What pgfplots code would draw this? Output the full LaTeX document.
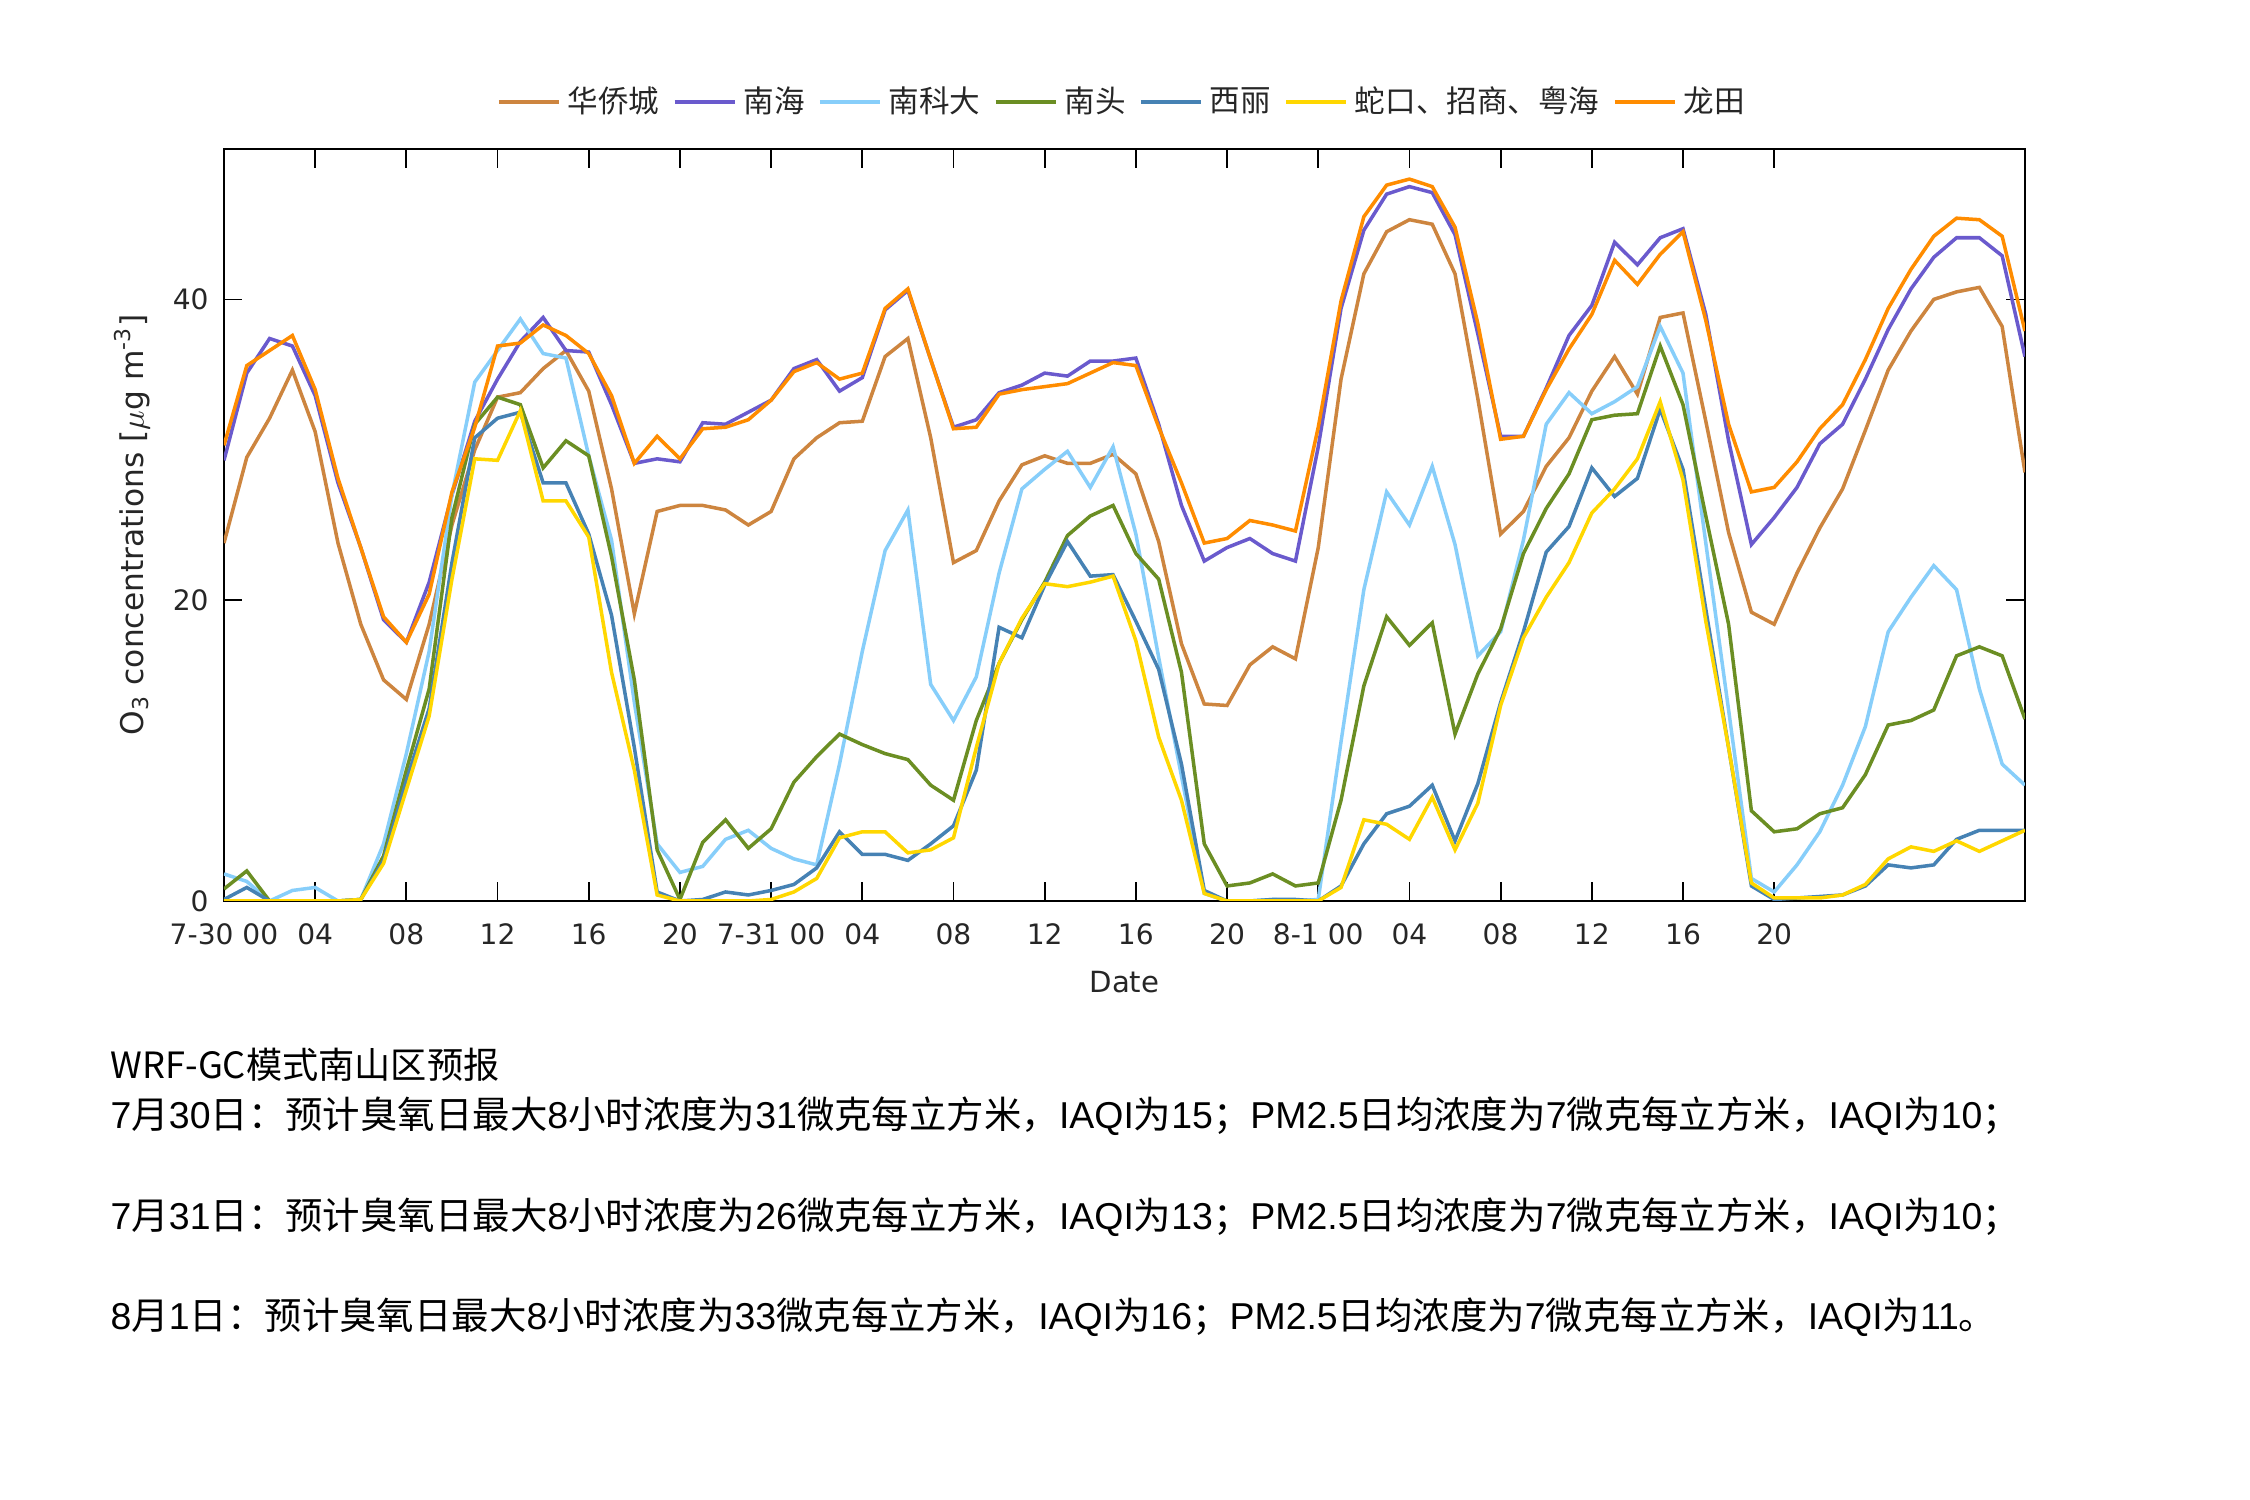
\documentclass[border=0pt]{standalone}
\usepackage{pgfplots}
\pgfplotsset{compat=1.18}
\usepackage{pgfplotstable}
\usepackage{fontspec}
\setmainfont{DejaVu Sans}
\newfontfamily\cjk{Noto Sans CJK SC}
\newfontfamily\lat{Liberation Sans}
\definecolor{cHQ}{HTML}{CD853F}
\definecolor{cNH}{HTML}{6A5ACD}
\definecolor{cNK}{HTML}{87CEFA}
\definecolor{cNT}{HTML}{6B8E23}
\definecolor{cXL}{HTML}{4682B4}
\definecolor{cSK}{HTML}{FFD700}
\definecolor{cLT}{HTML}{FF8C00}
\definecolor{txt}{HTML}{262626}
\pgfplotstableread{
h hq nh nk nt xl sk lt
0 23.8 29.3 1.8 0.8 0.1 0 30.3
1 29.5 35.1 1.3 2.0 0.9 0 35.6
2 32.1 37.4 0 0 0 0 36.6
3 35.3 36.9 0.7 0 0 0 37.6
4 31.2 33.6 0.9 0 0 0 34.0
5 23.8 27.8 0 0 0 0 28.1
6 18.4 23.5 0.1 0.1 0.1 0.1 23.5
7 14.7 18.7 3.8 3.0 2.7 2.5 18.9
8 13.4 17.2 9.8 8.7 8.0 7.4 17.2
9 18.4 21.2 16.6 14.1 12.8 12.3 20.4
10 25.0 27.0 27.0 25.5 22.5 21.4 27.2
11 30.0 31.9 34.5 31.7 30.8 29.4 31.5
12 33.5 34.7 36.6 33.5 32.1 29.3 36.9
13 33.8 37.2 38.7 33.0 32.5 32.6 37.1
14 35.4 38.8 36.4 28.8 27.8 26.6 38.3
15 36.6 36.6 36.1 30.6 27.8 26.6 37.6
16 33.9 36.5 29.6 29.6 24.4 24.2 36.4
17 27.4 33.0 24.0 22.9 19.0 15.2 33.6
18 19.1 29.1 13.2 14.7 10.2 8.7 29.1
19 25.9 29.4 3.8 3.4 0.6 0.4 30.9
20 26.3 29.2 1.9 0.1 0 0 29.4
21 26.3 31.8 2.3 3.9 0.1 0 31.4
22 26.0 31.7 4.1 5.4 0.6 0 31.5
23 25.0 32.5 4.7 3.5 0.4 0 32.0
24 25.9 33.3 3.5 4.8 0.7 0.1 33.3
25 29.4 35.4 2.8 7.9 1.1 0.6 35.2
26 30.8 36.0 2.4 9.6 2.2 1.5 35.8
27 31.8 33.9 9.1 11.1 4.6 4.2 34.7
28 31.9 34.8 16.6 10.4 3.1 4.6 35.1
29 36.2 39.3 23.3 9.8 3.1 4.6 39.4
30 37.4 40.6 26.0 9.4 2.7 3.2 40.7
31 30.8 36.0 14.4 7.7 3.8 3.4 36.0
32 22.5 31.5 12.0 6.7 5.0 4.2 31.4
33 23.3 32.0 14.9 12.0 8.7 10.2 31.5
34 26.6 33.8 21.8 15.8 18.2 15.8 33.7
35 29.0 34.3 27.4 18.7 17.5 18.8 34.0
36 29.6 35.1 28.7 21.2 21.0 21.1 34.2
37 29.1 34.9 29.9 24.3 23.9 20.9 34.4
38 29.1 35.9 27.5 25.6 21.6 21.2 35.1
39 29.7 35.9 30.2 26.3 21.7 21.6 35.8
40 28.4 36.1 24.4 23.1 18.6 17.3 35.6
41 23.9 31.7 16.2 21.4 15.4 10.9 31.5
42 17.1 26.3 8.3 15.2 9.1 6.7 27.8
43 13.1 22.6 0.5 3.8 0.7 0.5 23.8
44 13.0 23.5 0 1.0 0 0 24.1
45 15.7 24.1 0 1.2 0 0 25.3
46 16.9 23.1 0.1 1.8 0.1 0 25.0
47 16.1 22.6 0 1.0 0.1 0 24.6
48 23.5 30.2 0.1 1.2 0 0 31.5
49 34.7 39.4 10.6 6.7 1.0 0.9 39.9
50 41.7 44.6 20.7 14.3 3.8 5.4 45.5
51 44.5 47.0 27.2 18.9 5.8 5.1 47.6
52 45.3 47.5 25.0 17.0 6.3 4.1 48.0
53 45.0 47.1 28.9 18.5 7.7 6.9 47.5
54 41.7 44.3 23.7 11.1 4.0 3.4 44.8
55 33.4 37.7 16.3 15.1 7.8 6.5 38.4
56 24.4 30.9 17.9 18.1 13.2 13.0 30.7
57 25.9 30.9 24.0 23.1 17.9 17.5 30.9
58 28.9 34.1 31.7 26.1 23.2 20.2 34.0
59 30.8 37.6 33.8 28.4 24.9 22.5 36.7
60 33.9 39.6 32.4 32.0 28.8 25.8 39.0
61 36.2 43.8 33.2 32.3 26.9 27.4 42.6
62 33.7 42.3 34.2 32.4 28.1 29.4 41.0
63 38.8 44.1 38.2 36.9 32.7 33.2 43.0
64 39.1 44.7 35.1 33.0 28.7 28.0 44.5
65 31.9 39.0 23.8 25.6 19.4 18.6 38.6
66 24.5 30.6 12.7 18.4 10.2 10.2 31.7
67 19.2 23.7 1.5 6.0 1.0 1.2 27.2
68 18.4 25.5 0.6 4.6 0.1 0.2 27.5
69 21.8 27.5 2.4 4.8 0.2 0.2 29.2
70 24.8 30.4 4.6 5.8 0.3 0.2 31.4
71 27.4 31.7 7.7 6.2 0.4 0.4 33.0
72 31.3 34.7 11.6 8.4 1.0 1.1 36.0
73 35.3 38.0 17.9 11.7 2.4 2.8 39.4
74 37.9 40.7 20.2 12.0 2.2 3.6 42.0
75 40.0 42.8 22.3 12.7 2.4 3.3 44.2
76 40.5 44.1 20.7 16.3 4.1 4.0 45.4
77 40.8 44.1 14.1 16.9 4.7 3.3 45.3
78 38.2 42.9 9.1 16.3 4.7 4.0 44.2
79 28.5 36.2 7.7 12.1 4.7 4.7 37.9
}\datatable
\begin{document}
\begin{tikzpicture}
\path[use as bounding box] (0,0) rectangle (225mm,-150mm);
\begin{axis}[
  at={(22.4mm,-14.9mm)}, anchor=north west,
  scale only axis, width=180.1mm, height=75.2mm,
  xmin=0, xmax=79, ymin=0, ymax=50,
  xtick={0,4,...,68},
  xticklabels={7-30 00,04,08,12,16,20,7-31 00,04,08,12,16,20,8-1 00,04,08,12,16,20},
  ytick={0,20,40},
  tick align=inside,
  major tick length=1.85mm,
  tick style={black, line width=0.5pt},
  axis line style={black, line width=0.5pt},
  /pgf/number format/assume math mode=true,
  ticklabel style={font=\fontsize{8}{9.6}\selectfont, text=txt},
  xticklabel style={anchor=center, yshift=-3.3mm},
  yticklabel style={anchor=east, xshift=-0.3mm},
  xlabel={Date},
  xlabel style={at={(axis description cs:0.5,-0.1077)}, anchor=center, font=\fontsize{8.3}{10}\selectfont, text=txt},
  ylabel={O\textsubscript{3} concentrations [$\mu$g m\textsuperscript{-3}]},
  ylabel style={at={(axis description cs:-0.0511,0.5)}, anchor=center, font=\fontsize{8.9}{10.5}\selectfont, text=txt},
  legend columns=-1,
  legend style={at={(0.5,1)}, anchor=center, yshift=4.7mm, draw=none, fill=none,
    font=\cjk\fontsize{8.7}{10}\selectfont, text=txt,
    /tikz/every even column/.append style={column sep=0.65mm}},
  legend image code/.code={\draw[#1] (0mm,0mm) -- (6mm,0mm);},
  every axis plot/.append style={line width=1pt, mark=none},
]
\addplot[cHQ] table[x=h, y=hq] {\datatable};
\addlegendentry{华侨城}
\addplot[cNH] table[x=h, y=nh] {\datatable};
\addlegendentry{南海}
\addplot[cNK] table[x=h, y=nk] {\datatable};
\addlegendentry{南科大}
\addplot[cNT] table[x=h, y=nt] {\datatable};
\addlegendentry{南头}
\addplot[cXL] table[x=h, y=xl] {\datatable};
\addlegendentry{西丽}
\addplot[cSK] table[x=h, y=sk] {\datatable};
\addlegendentry{蛇口、招商、粤海}
\addplot[cLT] table[x=h, y=lt] {\datatable};
\addlegendentry{龙田}
\end{axis}
\node[anchor=west, inner sep=0pt, text=black, font=\cjk\fontsize{10.3}{12}\selectfont] at (11mm,-106.5mm) {WRF-GC模式南山区预报};
\begin{scope}[every node/.style={anchor=west, inner sep=0pt, text=black, font=\cjk\fontsize{10.65}{12.5}\selectfont}]
\node at (11mm,-111.6mm) {{\lat 7}月{\lat 30}日：预计臭氧日最大{\lat 8}小时浓度为{\lat 31}微克每立方米，{\lat IAQI}为{\lat 15}；{\lat PM2.5}日均浓度为{\lat 7}微克每立方米，{\lat IAQI}为{\lat 10}；};
\node at (11mm,-121.7mm) {{\lat 7}月{\lat 31}日：预计臭氧日最大{\lat 8}小时浓度为{\lat 26}微克每立方米，{\lat IAQI}为{\lat 13}；{\lat PM2.5}日均浓度为{\lat 7}微克每立方米，{\lat IAQI}为{\lat 10}；};
\node at (11mm,-131.7mm) {{\lat 8}月{\lat 1}日：预计臭氧日最大{\lat 8}小时浓度为{\lat 33}微克每立方米，{\lat IAQI}为{\lat 16}；{\lat PM2.5}日均浓度为{\lat 7}微克每立方米，{\lat IAQI}为{\lat 11}。};
\end{scope}
\end{tikzpicture}
\end{document}
